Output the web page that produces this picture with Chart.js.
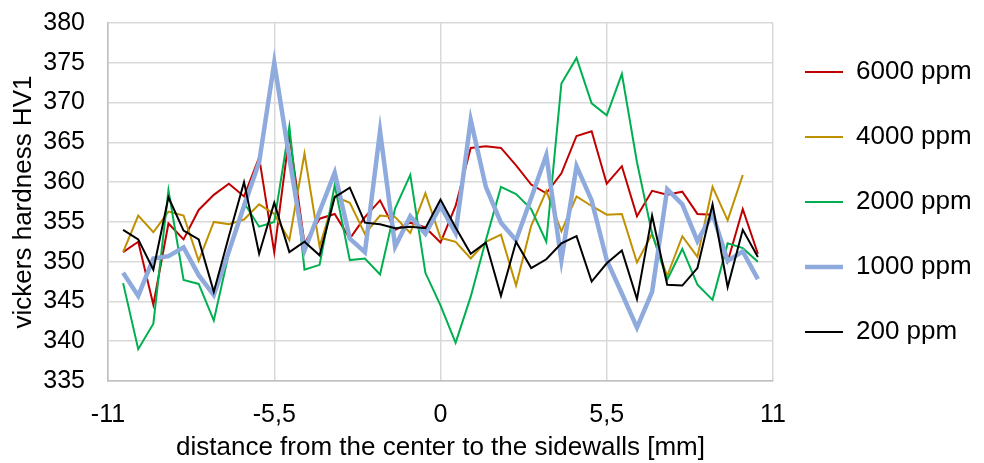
<!DOCTYPE html>
<html>
<head>
<meta charset="utf-8">
<script src="https://cdn.jsdelivr.net/npm/chart.js@4.4.0/dist/chart.umd.min.js"></script>
<style>
    html, body { margin: 0; padding: 0; background: #fff; }
    #wrap { width: 984px; height: 463px; }
</style>
</head>
<body>
<div id="wrap"><canvas id="hardness-chart" width="984" height="463"></canvas></div>
<script>
// measuring positions [mm]
var positions = [-10.5, -10, -9.5, -9, -8.5, -8, -7.5, -7, -6.5, -6, -5.5, -5, -4.5, -4, -3.5, -3, -2.5, -2, -1.5, -1, -0.5,
    0, 0.5, 1, 1.5, 2, 2.5, 3, 3.5, 4, 4.5, 5, 5.5, 6, 6.5, 7, 7.5, 8, 8.5, 9, 9.5, 10, 10.5];

// hardness HV1 per concentration
var ppm6000 = [351.2, 352.5, 344.6, 354.8, 352.8, 356.5, 358.4, 359.8, 358.2, 363.1, 351.2, 366.0, 352.3, 355.4, 356.0,
    352.9, 355.6, 357.7, 354.0, 354.9, 354.3, 352.4, 357.0, 364.3, 364.5, 364.3, 362.1, 359.7, 358.6, 361.1, 365.8, 366.4,
    359.8, 362.0, 355.7, 358.9, 358.4, 358.8, 356.0, 355.9, 350.0, 356.6, 351.0];
var ppm4000 = [351.2, 355.8, 353.7, 356.3, 355.8, 350.1, 355.0, 354.7, 355.3, 357.2, 356.0, 352.7, 363.6, 351.9, 358.2,
    357.4, 353.5, 355.8, 355.6, 353.6, 358.6, 353.0, 352.5, 350.4, 352.5, 353.4, 347.0, 354.5, 358.9, 353.8, 358.2, 357.0,
    355.9, 356.0, 349.9, 353.5, 348.2, 353.2, 350.6, 359.4, 355.2, 360.9];
var ppm2000 = [347.3, 339.0, 342.2, 359.0, 347.7, 347.2, 342.6, 351.1, 357.4, 354.4, 355.0, 367.0, 349.0, 349.6, 359.6,
    350.2, 350.4, 348.4, 356.7, 360.9, 348.6, 344.5, 339.8, 345.6, 352.7, 359.4, 358.5, 356.6, 352.5, 372.4, 375.6, 369.9,
    368.4, 373.6, 362.5, 353.5, 347.7, 351.6, 347.1, 345.2, 352.3, 351.7, 350.0];
var ppm1000 = [348.6, 345.7, 350.4, 350.7, 351.8, 348.3, 345.8, 351.3, 357.0, 362.5, 375.0, 363.0, 351.4, 356.3, 361.2,
    352.9, 351.2, 366.4, 351.9, 355.7, 353.5, 357.0, 353.6, 367.8, 359.4, 354.9, 352.7, 358.0, 363.4, 350.2, 362.0, 357.7,
    350.2, 346.0, 341.7, 346.2, 359.1, 357.2, 352.6, 356.0, 350.1, 351.3, 347.8];
var ppm200 = [354.0, 352.8, 349.0, 358.1, 353.9, 352.8, 346.2, 353.2, 360.0, 351.0, 357.4, 351.2, 352.5, 350.8, 358.1,
    359.3, 354.9, 354.7, 354.2, 354.4, 354.2, 357.8, 354.3, 351.0, 352.4, 345.7, 352.5, 349.2, 350.3, 352.3, 353.2, 347.5,
    349.8, 351.4, 345.3, 355.8, 347.1, 347.0, 349.2, 357.2, 346.8, 354.0, 350.6];

var seriesNames = ['6000 ppm', '4000 ppm', '2000 ppm', '1000 ppm', '200 ppm'];
var xTickValues = [-11, -5.5, 0, 5.5, 11];
var xTickLabels = ['-11', '-5,5', '0', '5,5', '11'];

function toPoints(values) {
    var pts = [];
    for (var i = 0; i < values.length; i++) {
        pts.push({ x: positions[i], y: values[i] });
    }
    return pts;
}

function series(name, values, color, width, order) {
    return {
        label: name,
        data: toPoints(values),
        borderColor: color,
        backgroundColor: color,
        borderWidth: width,
        pointRadius: 0,
        tension: 0,
        order: order
    };
}

// put the legend in the right margin, like the original
var legendPlacement = {
    id: 'legendPlacement',
    afterLayout: function(chart) {
        var lg = chart.legend;
        lg.left = 766;
        lg.right = 984;
        lg.top = 20;
        lg.bottom = 463;
        lg.width = lg.right - lg.left;
        lg.height = lg.bottom - lg.top;
    }
};

Chart.defaults.font.family = "'Liberation Sans', Arial, sans-serif";
Chart.defaults.font.size = 25;
Chart.defaults.color = '#000';

var ctx = document.getElementById('hardness-chart').getContext('2d');
var hardness_chart = new Chart(ctx, {
    type: 'line',
    data: {
        datasets: [
            series(seriesNames[0], ppm6000, '#C00000', 2, 5),
            series(seriesNames[1], ppm4000, '#BF9000', 2, 4),
            series(seriesNames[2], ppm2000, '#00B050', 2, 3),
            series(seriesNames[3], ppm1000, '#8FAADC', 4.5, 2),
            series(seriesNames[4], ppm200, '#000000', 2, 1)
        ]
    },
    plugins: [legendPlacement],
    options: {
        responsive: false,
        animation: false,
        devicePixelRatio: 1,
        layout: { padding: { top: 23, right: 211, left: 0, bottom: 0 } },
        plugins: {
            tooltip: { enabled: false },
            legend: {
                position: 'chartArea',
                align: 'start',
                labels: {
                    usePointStyle: true,
                    pointStyleWidth: 38,
                    padding: 39,
                    font: { size: 26 },
                    generateLabels: function(chart) {
                        return chart.data.datasets.map(function(ds, i) {
                            return {
                                text: ds.label,
                                pointStyle: 'line',
                                strokeStyle: ds.borderColor,
                                fillStyle: ds.borderColor,
                                lineWidth: ds.borderWidth,
                                datasetIndex: i,
                                hidden: false
                            };
                        });
                    }
                }
            }
        },
        scales: {
            x: {
                type: 'linear',
                min: -11,
                max: 11,
                afterFit: function(scale) {
                    scale.height = 82;
                    scale.paddingLeft = 0;
                    scale.paddingRight = 0;
                },
                afterBuildTicks: function(scale) {
                    scale.ticks = xTickValues.map(function(v) { return { value: v }; });
                },
                ticks: {
                    padding: 19,
                    maxRotation: 0,
                    callback: function(value) {
                        var i = xTickValues.indexOf(value);
                        return i >= 0 ? xTickLabels[i] : '';
                    }
                },
                grid: { color: '#D9D9D9', lineWidth: 1.5, drawTicks: false },
                border: { color: '#BFBFBF', width: 1.5 },
                title: {
                    display: true,
                    text: 'distance from the center to the sidewalls [mm]',
                    font: { size: 26 },
                    padding: { top: 0, bottom: 0 }
                }
            },
            y: {
                min: 335,
                max: 380,
                afterFit: function(scale) {
                    scale.width = 108;
                    scale.paddingTop = 0;
                    scale.paddingBottom = 0;
                },
                ticks: { stepSize: 5, padding: 23 },
                grid: { color: '#D9D9D9', lineWidth: 1.5, drawTicks: false },
                border: { color: '#BFBFBF', width: 1.5 },
                title: {
                    display: true,
                    text: 'vickers hardness HV1',
                    font: { size: 26 },
                    padding: { top: 8, bottom: 0 }
                }
            }
        }
    }
});
</script>
</body>
</html>
